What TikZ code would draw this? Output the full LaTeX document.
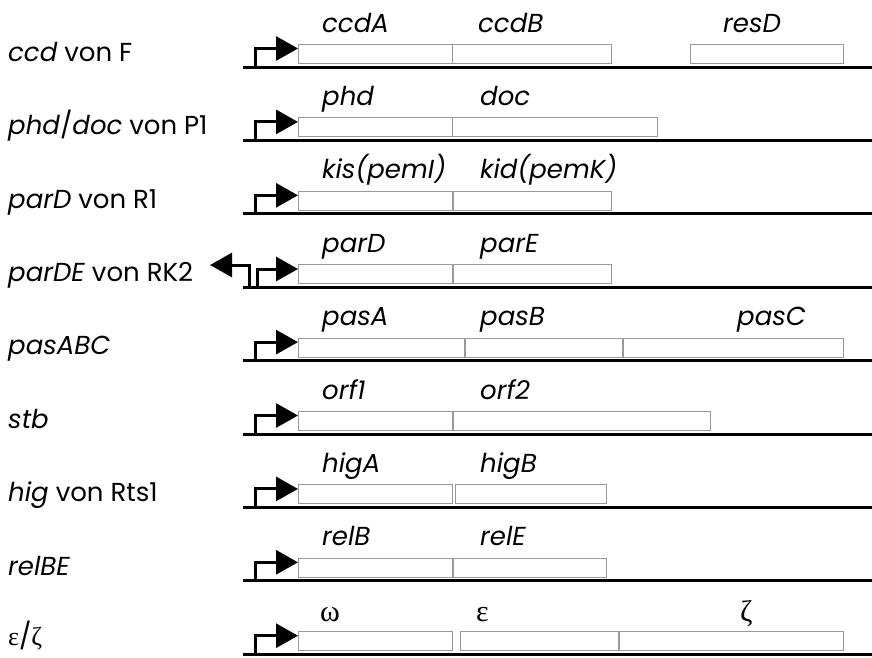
\documentclass[tikz,border=0pt]{standalone}
\usepackage{fontspec}
\setmainfont{Poppins}
\newfontfamily\grk{Liberation Serif}
\usetikzlibrary{arrows.meta}
\newcommand\dnaline[2]{% id, L
  \coordinate (s#1) at (243,#2); \coordinate (e#1) at (872,#2);
  \draw[dna] (s#1) -- (e#1);}
\newcommand\gbox[6]{% name, x, width, L, label, label x
  \node[gene, minimum width=#3pt] (#1) at (#2,#4-23) {};
  \node[glab] (#1l) at (#6,#4-35) {#5};}
\newcommand\promo[3]{% id, L, target
  \coordinate (p#1) at (255,#2); \coordinate (t#1) at (#3.west |- 0,#2-18.5);
  \draw[prom] (p#1) |- (t#1);}
\begin{document}
\begin{tikzpicture}[x=1pt,y=-1pt,
  dna/.style={line width=3pt},
  gene/.style={draw=black!40, line width=0.9pt, fill=white, inner sep=0pt,
    minimum height=19pt, anchor=north west},
  prom/.style={line width=3pt, -{Triangle[length=22pt 0 0,width=24pt 0 0]}},
  glab/.style={anchor=base west, inner sep=0pt, font=\fontsize{26}{28}\selectfont\itshape},
  rlab/.style={anchor=base west, inner sep=0pt, font=\fontsize{26}{28}\selectfont},
  grl/.style={anchor=base west, inner sep=0pt, font=\fontsize{30}{32}\selectfont\grk}]
\useasboundingbox (0,0) rectangle (872,657);
% row 1
\dnaline{1}{67}
\gbox{ccdA}{298}{154}{67}{ccdA}{322}
\gbox{ccdB}{452}{159}{67}{ccdB}{478}
\gbox{resD}{690}{153}{67}{resD}{723}
\promo{1}{67}{ccdA}
\node[rlab] (n1) at (8,61.5) {\textit{ccd} von F};
% row 2
\dnaline{2}{140.4}
\gbox{phd}{298}{154}{140.4}{phd}{322}
\gbox{doc}{452}{205}{140.4}{doc}{480}
\promo{2}{140.4}{phd}
\node[rlab] (n2) at (8,134.9) {\textit{phd}/\textit{doc} von P1};
% row 3
\dnaline{3}{213.8}
\gbox{kis}{298}{154}{213.8}{kis(pemI)}{322}
\gbox{kid}{453}{158}{213.8}{kid(pemK)}{480}
\promo{3}{213.8}{kis}
\node[rlab] (n3) at (8,208.3) {\textit{parD} von R1};
% row 4
\dnaline{4}{287.2}
\gbox{parD}{298}{154}{287.2}{parD}{322}
\gbox{parE}{453}{158}{287.2}{parE}{480}
\coordinate (p4) at (257,287.2); \coordinate (t4) at (parD.west |- 0,269);
\draw[prom] (p4) |- (t4);
\coordinate (q4) at (249,287.2); \coordinate (u4) at (210,265);
\draw[prom] (q4) |- (u4);
\node[rlab] (n4) at (8,281.7) {\textit{parDE} von RK2};
% row 5
\dnaline{5}{360.6}
\gbox{pasA}{298}{166}{360.6}{pasA}{322}
\gbox{pasB}{465}{157}{360.6}{pasB}{480}
\gbox{pasC}{623}{220}{360.6}{pasC}{737}
\promo{5}{360.6}{pasA}
\node[rlab] (n5) at (8,354) {\textit{pasABC}};
% row 6
\dnaline{6}{434}
\gbox{orfA}{298}{154}{434}{orf1}{322}
\gbox{orfB}{453}{257}{434}{orf2}{480}
\promo{6}{434}{orfA}
\node[rlab] (n6) at (8,428.5) {\textit{stb}};
% row 7
\dnaline{7}{507.4}
\gbox{higA}{298}{154}{507.4}{higA}{322}
\gbox{higB}{455}{151}{507.4}{higB}{480}
\promo{7}{507.4}{higA}
\node[rlab] (n7) at (8,501.9) {\textit{hig} von Rts1};
% row 8
\dnaline{8}{580.8}
\gbox{relB}{298}{154}{580.8}{relB}{322}
\gbox{relE}{453}{153}{580.8}{relE}{480}
\promo{8}{580.8}{relB}
\node[rlab] (n8) at (8,575.3) {\textit{relBE}};
% row 9
\dnaline{9}{654.2}
\node[gene, minimum width=154pt] (omega) at (298,631.2) {};
\node[gene, minimum width=158pt] (eps) at (460,631.2) {};
\node[gene, minimum width=224pt] (zeta) at (619,631.2) {};
\node[grl] (omegal) at (320,621) {ω};
\node[grl] (epsl) at (476,621) {ε};
\node[grl] (zetal) at (740,621) {ζ};
\promo{9}{654.2}{omega}
\node[rlab] (n9) at (8,645) {{\grk ε}/{\grk ζ}};
\end{tikzpicture}
\end{document}
